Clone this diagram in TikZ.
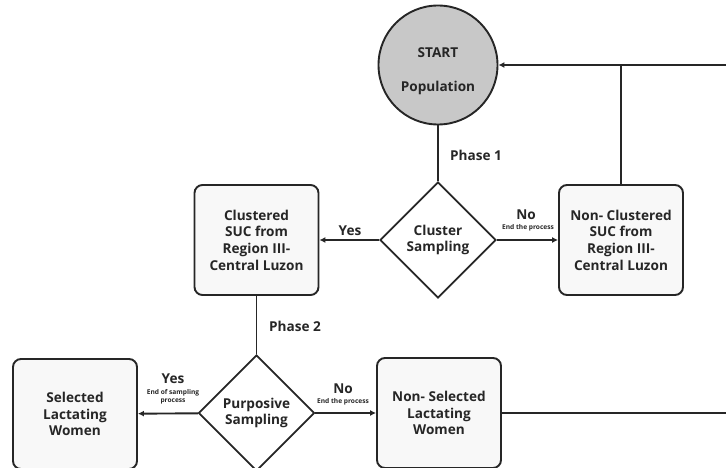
\documentclass[tikz,border=0pt]{standalone}
\usepackage{fontspec}
\setmainfont{Open Sans}
\usetikzlibrary{shapes.geometric,arrows.meta}
\definecolor{ink}{HTML}{262626}
\definecolor{startfill}{HTML}{C8C8C8}
\definecolor{boxfill}{HTML}{F8F8F8}
\tikzset{
  base/.style={draw=ink, line width=1.9pt, text=ink, font=\fontsize{13.6}{16.7}\selectfont\bfseries, align=center, inner sep=0pt},
  stepbox/.style={base, rectangle, rounded corners=8pt, fill=boxfill, minimum width=124pt, minimum height=110pt},
  decision/.style={base, diamond, aspect=1, fill=white, minimum width=116pt, minimum height=116pt},
  startnode/.style={base, circle, fill=startfill, minimum size=119pt},
  conn/.style={draw=ink, line width=1.9pt},
  arr/.style={conn, -{Latex[length=6pt,width=6pt]}},
  lbl/.style={text=ink, font=\fontsize{13.6}{15}\selectfont\bfseries, inner sep=0pt},
  small/.style={text=ink, font=\fontsize{6.6}{8}\selectfont\bfseries, inner sep=0pt, align=center},
}
\begin{document}
\begin{tikzpicture}[x=1pt,y=-1pt]
\useasboundingbox[fill=white] (0,0) rectangle (726,468);
\node[startnode] (start) at (438,65) {\rule{0pt}{22pt}START\\[18pt]Population};
\node[decision] (cs) at (438,240) {Cluster\\Sampling};
\node[stepbox] (ncs) at (621,240) {Non- Clustered\\SUC from\\Region III-\\Central Luzon};
\node[stepbox] (cl) at (256.5,240) {Clustered\\SUC from\\Region III-\\Central Luzon};
\node[decision] (ps) at (256.5,413) {Purposive\\Sampling};
\node[stepbox] (sel) at (75,414) {Selected\\Lactating\\Women};
\node[stepbox] (nsel) at (439,413) {Non- Selected\\Lactating\\Women};
\coordinate (rtop) at (726,65);
\coordinate (rbot) at (726,413);

\draw[arr] (rtop) -- (start);
\draw[conn] (ncs.north) -- (ncs.north |- rtop);
\draw[conn] (start) -- (cs);
\draw[arr] (cs) -- (ncs);
\draw[arr] (cs) -- (cl);
\draw[conn] (cl) -- (ps);
\draw[arr] (ps) -- (sel);
\draw[arr] (ps) -- (nsel);
\draw[conn] (nsel) -- (rbot);

\node[lbl, anchor=west] (ph1) at (450,155) {Phase 1};
\node[lbl, anchor=west] (ph2) at (269,326) {Phase 2};
\node[lbl] (no1) at (526,215) {No};
\node[small] (no1s) at (528,228) {End the process};
\node[lbl] (yes1) at (350,231) {Yes};
\node[lbl] (yes2) at (173,379) {Yes};
\node[small] (yes2s) at (173,397) {End of sampling\\process};
\node[lbl] (no2) at (343,389) {No};
\node[small] (no2s) at (343,402) {End the process};
\end{tikzpicture}
\end{document}
